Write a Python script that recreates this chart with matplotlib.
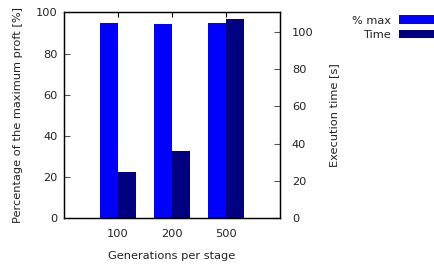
import matplotlib
matplotlib.use("Agg")
import matplotlib.pyplot as plt
import numpy as np

categories = ["100", "200", "500"]
pct_max = [94.9, 94.3, 94.6]
exec_time = [25.0, 36.1, 106.9]
left_ticks = [0, 20, 40, 60, 80, 100]
right_ticks = [0, 20, 40, 60, 80, 100]

blue = "#0000ff"
navy = "#000080"
txt = "#222222"
fs = 8.2

plt.rcParams['font.family'] = ['DejaVu Sans']
fig = plt.figure(figsize=(4.34, 2.69), dpi=100)
ax = fig.add_axes([64/434, 1 - 218.3/269, (280 - 64)/434, (218.3 - 12.3)/269])
ax2 = ax.twinx()

x = np.arange(len(categories))
w = 0.34
b1 = ax.bar(x - w/2, pct_max, w, color=blue, label="% max", zorder=2)
b2 = ax2.bar(x + w/2, exec_time, w, color=navy, label="Time", zorder=2)

ax.set_xlim(-1, 3)
ax.set_ylim(0, 100)
ax2.set_ylim(0, 110.5)
ax.set_xticks(x)
ax.set_xticklabels(categories)
ax.set_yticks(left_ticks)
ax2.set_yticks(right_ticks)

ax.tick_params(axis='y', direction='in', length=4, width=0.8, color='#555555',
               labelsize=fs, labelcolor=txt, pad=4.5, right=False)
ax.tick_params(axis='x', direction='in', length=3.5, width=0.8, top=True, bottom=False,
               labelsize=fs, labelcolor=txt, pad=8)
ax2.tick_params(axis='y', direction='in', length=4, width=0.8, color='#555555',
                labelsize=fs, labelcolor=txt, pad=8.5)

for a in (ax, ax2):
    for s in a.spines.values():
        s.set_linewidth(0.9)
        s.set_color('black')

ax.set_ylabel("Percentage of the maximum proft [%]", fontsize=fs, color=txt, labelpad=9)
ax2.set_ylabel("Execution time [s]", fontsize=fs, color=txt, labelpad=11)
ax.set_xlabel("Generations per stage", fontsize=fs, color=txt, labelpad=8)

fig.legend(handles=[b1, b2], labels=["% max", "Time"], loc='upper right',
           bbox_to_anchor=(1.0, 1 - 15.5/269), frameon=False, markerfirst=False,
           fontsize=fs, handlelength=3.1, handleheight=0.75, handletextpad=0.7,
           labelspacing=0.35, borderpad=0, borderaxespad=0, labelcolor=txt)

fig.savefig("out.png", dpi=100)
